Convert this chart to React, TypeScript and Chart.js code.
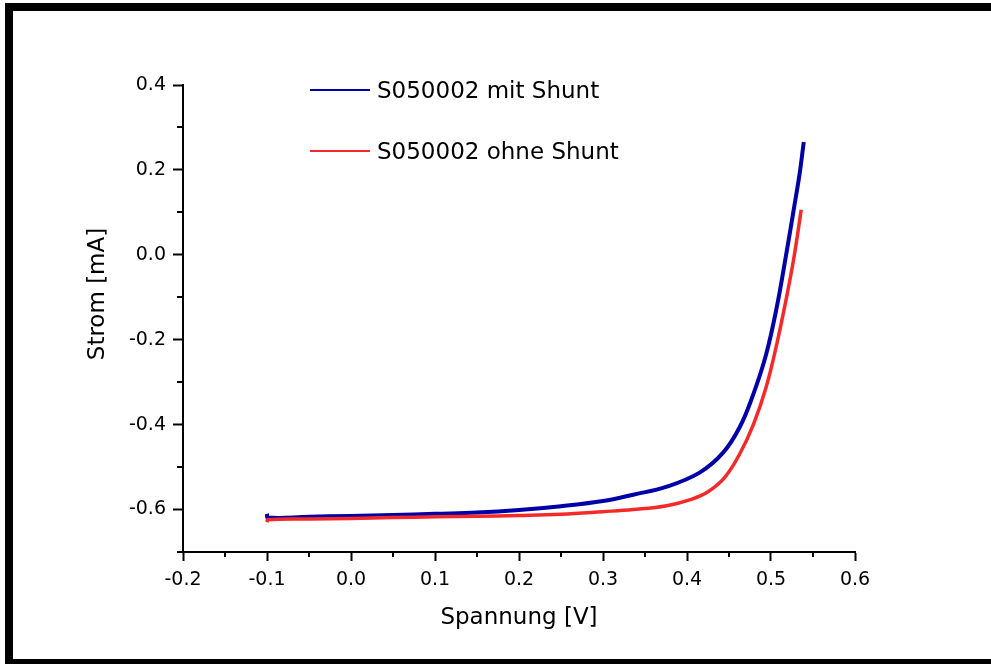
import React, { useEffect, useRef } from "react";
import { Chart, registerables } from "chart.js";

Chart.register(...registerables);

// Spannung [V] and Strom [mA]
const voltageMit = [-0.1, -0.099, -0.05, 0.0, 0.05, 0.1, 0.15, 0.2, 0.25, 0.3, 0.336, 0.376, 0.415, 0.443, 0.463, 0.479, 0.494, 0.507, 0.518, 0.527, 0.534, 0.539];
const currentMit = [-0.61, -0.619, -0.617, -0.615, -0.613, -0.61, -0.607, -0.601, -0.592, -0.58, -0.565, -0.546, -0.513, -0.466, -0.405, -0.328, -0.236, -0.122, 0.0, 0.106, 0.19, 0.266];

const voltageOhne = [-0.1, -0.099, -0.05, 0.0, 0.05, 0.1, 0.15, 0.2, 0.25, 0.3, 0.336, 0.376, 0.405, 0.425, 0.445, 0.463, 0.479, 0.494, 0.507, 0.518, 0.527, 0.536];
const currentOhne = [-0.63, -0.624, -0.622, -0.621, -0.619, -0.617, -0.616, -0.614, -0.611, -0.605, -0.6, -0.591, -0.576, -0.558, -0.524, -0.468, -0.4, -0.313, -0.209, -0.105, -0.01, 0.106];

const seriesLabels = ["S050002 mit Shunt", "S050002 ohne Shunt"];
const seriesColors = ["#0000a8", "#f42a2a"];

const xTickValues = [-0.2, -0.1, 0.0, 0.1, 0.2, 0.3, 0.4, 0.5, 0.6];
const xMinorTicks = [-0.15, -0.05, 0.05, 0.15, 0.25, 0.35, 0.45, 0.55];
const yTickValues = [-0.6, -0.4, -0.2, 0.0, 0.2, 0.4];
const yMinorTicks = [-0.7, -0.5, -0.3, -0.1, 0.1, 0.3];

const xTitle = "Spannung [V]";
const yTitle = "Strom [mA]";

const FONT = '"DejaVu Sans", "Liberation Sans", Arial, sans-serif';

const decorPlugin = {
  id: "decor",
  afterDraw(chart: any) {
    const { ctx, chartArea } = chart;
    const x = chart.scales.x;
    const y = chart.scales.y;
    ctx.save();
    ctx.strokeStyle = "#000";
    ctx.lineWidth = 2;
    ctx.beginPath();
    for (const v of xMinorTicks) {
      const px = Math.round(x.getPixelForValue(v));
      ctx.moveTo(px, chartArea.bottom);
      ctx.lineTo(px, chartArea.bottom + 5);
    }
    for (const v of yMinorTicks) {
      const py = Math.round(y.getPixelForValue(v));
      ctx.moveTo(chartArea.left, py);
      ctx.lineTo(chartArea.left - 6, py);
    }
    ctx.stroke();

    // axis titles
    ctx.fillStyle = "#000";
    ctx.font = `23px ${FONT}`;
    ctx.textAlign = "center";
    ctx.textBaseline = "middle";
    ctx.fillText(xTitle, (chartArea.left + chartArea.right) / 2, 618);
    ctx.save();
    ctx.translate(98, 294);
    ctx.rotate(-Math.PI / 2);
    ctx.fillText(yTitle, 0, 0);
    ctx.restore();

    // legend
    const ds = chart.data.datasets;
    const rows = [98, 159];
    ctx.textAlign = "left";
    ctx.textBaseline = "alphabetic";
    ds.forEach((d: any, i: number) => {
      const base = rows[i];
      const ly = base - 8;
      ctx.strokeStyle = d.borderColor;
      ctx.lineWidth = 2;
      ctx.beginPath();
      ctx.moveTo(310, ly);
      ctx.lineTo(370, ly);
      ctx.stroke();
      ctx.fillStyle = "#000";
      ctx.fillText(d.label, 377, base);
    });
    ctx.restore();
  },
};

export default function App() {
  const canvasRef = useRef<HTMLCanvasElement | null>(null);

  useEffect(() => {
    document.body.style.margin = "0";
    const canvas = canvasRef.current;
    if (!canvas) return;
    const chart = new Chart(canvas, {
      type: "line",
      data: {
        datasets: [
          {
            label: seriesLabels[0],
            data: voltageMit.map((v, i) => ({ x: v, y: currentMit[i] })),
            borderColor: seriesColors[0],
            backgroundColor: seriesColors[0],
            borderWidth: 4,
            pointRadius: 0,
            tension: 0.4,
            order: 2,
          },
          {
            label: seriesLabels[1],
            data: voltageOhne.map((v, i) => ({ x: v, y: currentOhne[i] })),
            borderColor: seriesColors[1],
            backgroundColor: seriesColors[1],
            borderWidth: 3.5,
            pointRadius: 0,
            tension: 0.4,
            order: 1,
          },
        ],
      },
      options: {
        animation: false,
        responsive: false,
        events: [],
        layout: { padding: { left: 0, right: 136, top: 85, bottom: 0 } },
        plugins: { legend: { display: false }, tooltip: { enabled: false } },
        scales: {
          x: {
            type: "linear",
            min: -0.2,
            max: 0.6,
            afterBuildTicks: (s: any) => {
              s.ticks = xTickValues.map((v) => ({ value: v }));
            },
            afterFit: (s: any) => {
              s.height = 112;
            },
            ticks: {
              color: "#000",
              font: { family: FONT, size: 19 },
              padding: 8,
              maxRotation: 0,
              autoSkip: false,
              callback: (v: any) => Number(v).toFixed(1),
            },
            grid: {
              drawOnChartArea: false,
              drawTicks: true,
              tickLength: 9,
              tickWidth: 2,
              tickColor: "#000",
              color: "#000",
            },
            border: { display: true, color: "#000", width: 2 },
          },
          y: {
            type: "linear",
            min: -0.7,
            max: 0.4,
            afterBuildTicks: (s: any) => {
              s.ticks = yTickValues.map((v) => ({ value: v }));
            },
            afterFit: (s: any) => {
              s.width = 183;
            },
            ticks: {
              color: "#000",
              font: { family: FONT, size: 19 },
              padding: 7,
              autoSkip: false,
              callback: (v: any) => Number(v).toFixed(1),
            },
            grid: {
              drawOnChartArea: false,
              drawTicks: true,
              tickLength: 10,
              tickWidth: 2,
              tickColor: "#000",
              color: "#000",
            },
            border: { display: true, color: "#000", width: 2 },
          },
        },
      },
      plugins: [decorPlugin],
    });
    return () => chart.destroy();
  }, []);

  return (
    <div
      style={{
        position: "fixed",
        left: 0,
        top: 0,
        width: 991,
        height: 664,
        background: "#fff",
        overflow: "hidden",
      }}
    >
      <canvas ref={canvasRef} width={991} height={664} style={{ display: "block" }} />
      <div
        style={{
          position: "absolute",
          left: 5,
          top: 3,
          width: 1100,
          height: 648,
          borderTop: "8px solid #000",
          borderLeft: "8px solid #000",
          borderBottom: "8px solid #000",
          pointerEvents: "none",
        }}
      />
    </div>
  );
}
